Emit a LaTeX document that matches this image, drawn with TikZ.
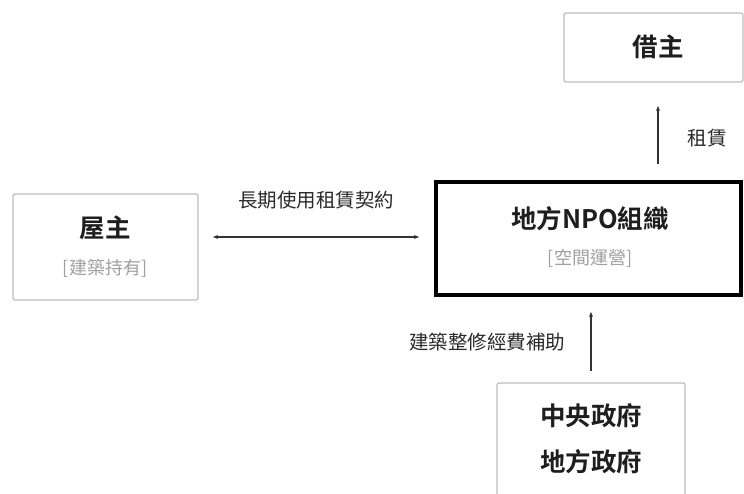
\documentclass[tikz,border=0pt]{standalone}
\usepackage{fontspec}
\setmainfont{Noto Sans CJK TC}[BoldFont={Noto Sans CJK TC Bold}]
\usetikzlibrary{arrows.meta}
\definecolor{boxgray}{HTML}{BDBDBD}
\definecolor{subgray}{HTML}{A0A0A0}
\definecolor{linegray}{HTML}{333333}
\definecolor{labelgray}{HTML}{2A2A2A}
\definecolor{txt}{HTML}{1E1E1E}
\begin{document}
\begin{tikzpicture}[x=1pt,y=-1pt,
  plainbox/.style={draw=boxgray,line width=1.2pt,rounded corners=2pt},
  mainbox/.style={draw=black,line width=4pt},
  titletext/.style={font=\fontsize{25.5}{30}\selectfont\bfseries,text=txt},
  subtext/.style={font=\fontsize{18}{22}\selectfont,text=subgray},
  labeltext/.style={font=\fontsize{19.5}{23}\selectfont,text=labelgray},
  conn/.style={draw=linegray,line width=1.2pt,-{Stealth[length=5pt,width=4pt]}},
  bconn/.style={draw=linegray,line width=1.2pt,{Stealth[length=5pt,width=4pt]}-{Stealth[length=5pt,width=4pt]}}]
\useasboundingbox (0,0) rectangle (744,494);
\fill[white] (0,0) rectangle (744,494);
% boxes
\draw[plainbox] (564,13) rectangle (743,82);
\node[titletext] (borrower) at (658,47) {借主};
\draw[mainbox] (436,182) rectangle (741,295);
\node[titletext] (npo) at (590,219) {地方NPO組織};
\node[subtext] (npoSub) at (590,258) {[空間運營]};
\draw[plainbox] (13,194) rectangle (198,300);
\node[titletext] (owner) at (105,228) {屋主};
\node[subtext] (ownerSub) at (105,268) {[建築持有]};
\draw[plainbox] (497,383) rectangle (685,500);
\node[titletext] (gov1) at (591,416) {中央政府};
\node[titletext] (gov2) at (591,462) {地方政府};
% connector endpoints
\coordinate (hL) at (213,237);
\coordinate (hR) at (419,237);
\coordinate (uB) at (658,164);
\coordinate (uT) at (658,106);
\coordinate (lB) at (591,371);
\coordinate (lT) at (591,312);
\draw[bconn] (hL) -- (hR);
\draw[conn] (uB) -- (uT);
\draw[conn] (lB) -- (lT);
\node[labeltext] (lblLease) at (316,200) {長期使用租賃契約};
\node[labeltext] (lblRent) at (707,138) {租賃};
\node[labeltext] (lblSub) at (487,342) {建築整修經費補助};
\end{tikzpicture}
\end{document}
